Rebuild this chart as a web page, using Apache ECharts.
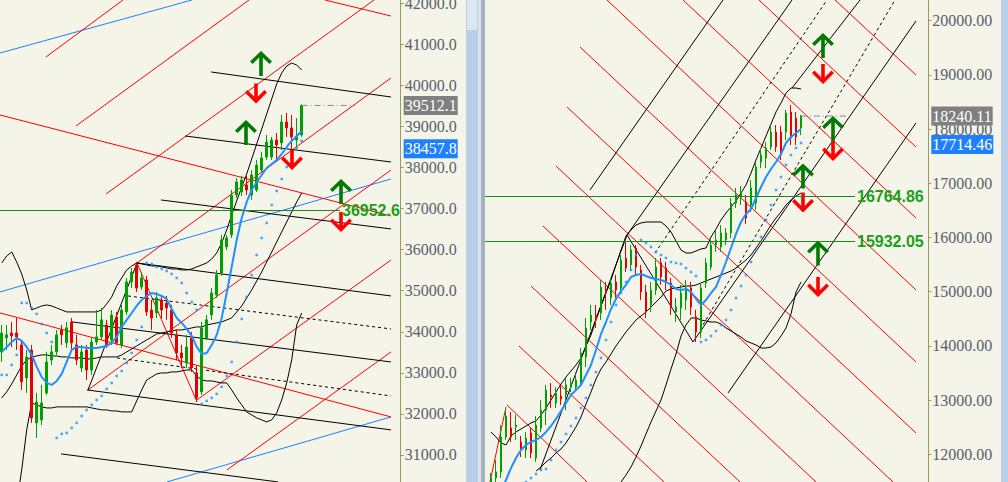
<!DOCTYPE html>
<html><head><meta charset="utf-8">
<script src="https://cdn.jsdelivr.net/npm/echarts@6/dist/echarts.min.js"></script>
<style>html,body{margin:0;padding:0;background:#f5f4e8;}#c{width:1008px;height:482px;}</style>
</head><body><div id="c"></div>
<script>
// ---------------- LEFT PANEL DATA (index, [open, close, low, high]) ----------------
const leftCandles = [
[33510,33970,33265,34165],[33850,33925,33555,34165],[33970,33900,33630,34240],[33970,33875,33555,34335],
[33680,32780,32585,33800],[32875,33385,32510,33555],[33555,31900,31780,33680],[31780,32290,31415,32510],
[31855,32265,31730,32705],[32510,33265,32460,33510],[33315,33510,33190,33680],[33510,33925,33435,34045],
[34045,33925,33680,34165],[33730,34095,33605,34240],[34240,33730,33555,34335],[33680,33315,33190,33925],
[33120,33510,33020,33680],[33555,33070,32825,33680],[33070,33750,32950,33850],[33750,33875,33680,34530],
[33875,34290,33800,34580],[34165,33680,33605,34290],[33800,34410,33680,34530],[34360,33730,33680,34485],
[33680,34530,33605,34655],[34485,35215,34410,35310],[35215,35455,35065,35555],[35625,35065,34970,35700],
[35090,35310,35020,35455],[35260,34485,34385,35360],[34530,34335,34045,34775],[34460,34825,34335,34970],
[34775,34530,34335,34870],[34700,34580,34290,34870],[34530,33970,33850,34655],[33925,33485,33315,34045],
[33485,33365,33120,33680],[33240,33630,33120,33925],[33850,33120,33020,33995],[33000,32390,32290,33170],
[32535,34095,32460,34240],[33850,34290,33800,34410],[34410,34945,34290,35065],[34895,35385,34825,35505],
[35430,36235,35360,36360],[36065,36285,35990,36360],[36360,37330,36285,37455],[37330,37650,37260,37745],
[37405,37695,37305,37795],[37575,37455,37330,37795],[37330,37820,37210,37940],[37455,38060,37405,38185],
[37940,38235,37890,38380],[38255,38620,38185,38795],[38255,38670,38185,38745],[38670,38550,38185,38840],
[38600,39110,38425,39280],[39110,38965,38745,39330],[38965,38745,38380,39280],[38670,38745,38500,39205],
[38795,39512.1,38745,39540]
];
const leftMA = [33509,33631,33752,33850,33777,33631,33436,33144,32900,32754,32705,32803,32973,33265,33557,33631,33631,33606,33606,33606,33631,33655,33728,33874,34118,34288,34458,34629,34775,34872,34945,34921,34872,34799,34556,34337,34215,34069,33898,33631,33460,33484,33679,33923,34337,34945,35579,36236,36772,37161,37453,37648,37819,37989,38087,38184,38330,38501,38647,38768,38890];
const leftSAR = [32949,32949,33192,33436,34702,34702,34580,34434,34190,33971,33752,31415,31512,31537,31658,31780,31950,32097,32219,32340,32437,32608,32754,32924,33046,33241,33484,33801,34118,35676,35652,35579,35530,35481,35408,35311,35189,34945,34726,34531,32243,32316,32389,32486,32657,32924,33265,33752,34312,34848,35384,35871,36285,36650,37088,37429,37721,38014,38257,38476,38647];
const leftBandUp = [35676,35846,35944,35700,35408,35018,34531,34580,34629,34653,34629,34580,34531,34483,34483,34483,34483,34483,34483,34483,34531,34678,34848,35116,35311,35505,35603,35676,35652,35627,35603,35603,35579,35554,35530,35530,35505,35505,35530,35579,35627,35676,35773,35919,36163,36480,36845,37186,37527,37843,38208,38574,38939,39304,39669,40035,40302,40473,40546,40497,40375];
const leftBandMid = [32389,32535,32730,32949,33168,33314,33387,33411,33436,33436,33411,33411,33387,33387,33363,33363,33363,33338,33338,33363,33387,33387,33387,33387,33436,33509,33582,33655,33728,33801,33874,33947,33971,33996,34020,34044,34044,34069,34093,34118,34118,34166,34191,34215,34239,34288,34337,34483,34629,34824,35018,35238,35457,35700,35944,36187,36431,36674,36918,37161,37381];
const leftBandLow = [null,28176,29004,29808,30636,31610,32267,32218,32170,32145,32145,32170,32170,32170,32170,32170,32170,32170,32145,32121,32097,32097,32072,32072,32048,32048,32048,32316,32583,32827,32900,32973,32997,32997,33022,33022,33046,33070,33070,32924,32827,32803,32803,32778,32754,32754,32583,32389,32219,32048,31975,31902,31853,31804,31853,32024,32340,32754,33314,34166,34458];
// trend lines: [[index, price], [index, price]]
const leftRedLines = [
 [[8.86,40692],[24.26,42080]],[[14.86,39012],[49.46,42080]],[[20.86,37356],[74.46,42080]],
 [[27.06,35676],[77.86,40181]],[[17.26,32583],[77.86,37940]],[[39.06,32340],[77.86,35749]],
 [[45.06,30636],[77.86,33509]],[[-0.34,39280],[77.86,36820]],[[-0.34,34458],[77.86,31926]],
 [[64.66,42080],[77.86,41690]],[[27.06,35676],[39.06,32291]]
];
const leftBlackLines = [
 [[41.9,40327],[77.86,39718]],[[36.66,38768],[77.86,38135]],[[31.86,37210],[77.86,36504]],
 [[27.06,35676],[77.86,34872]],[[14.06,34239],[77.86,33265]],[[17.06,32583],[77.86,31610]],
 [[11.86,31025],[55.26,30343]],[[17.26,32583],[27.06,35676]]
];
const leftBlackDashed = [[[25.26,34872],[77.86,34069]],[[23.06,33363],[77.86,32437]]];
const leftBlueLines = [[[-0.34,40789],[38.06,42080]],[[-0.34,34970],[77.86,37721]],[[33.06,30343],[77.86,31926]]];
const leftLevel = 36952.6, leftLevelEnd = 67.66;
const leftLast = 39512.1, leftBlueVal = 38457.8;
const leftArrowsUp = [[51.86,40534],[48.86,38854],[67.86,37417]];
const leftArrowsDown = [[50.86,39803],[58.06,38184],[67.86,36674]];

// ---------------- RIGHT PANEL DATA ----------------
const rightCandles = [
[11490,11565,11340,11655],[11565,11675,11490,11895],[11675,12320,11565,12540],[12320,12705,12265,12855],
[12485,12320,12225,12780],[12505,12540,12265,12725],[12225,12080,11950,12340],[12080,12300,11930,12410],
[12395,12025,11930,12485],[11930,12540,11860,12705],[12485,12815,12410,13000],[12815,13185,12540,13280],
[13095,13055,12855,13315],[12945,13130,12855,13240],[13075,13020,12910,13280],[13095,13280,12815,13410],
[13240,13315,13150,13410],[13240,13370,13185,13480],[13335,13870,13280,13960],[13795,14330,13610,14515],
[14440,14570,14295,14755],[14570,14480,14330,14755],[14605,15085,14480,15215],[15030,14975,14665,15180],
[14885,15160,14755,15255],[15180,15030,14885,15310],[15070,15585,14995,15675],[15620,15435,15365,15915],
[15495,15770,15400,15860],[15805,15455,15310,15860],[15400,14995,14845,15495],[14995,14625,14515,15125],
[14755,15030,14625,15180],[15030,15455,14940,15620],[15530,15270,15125,15620],[15435,15180,15030,15550],
[15160,14720,14570,15255],[14625,14720,14440,14885],[14700,14975,14480,15125],[14845,15070,14665,15215],
[15070,14720,14570,15180],[14535,14255,14070,14665],[14255,15070,14145,15160],[15160,15530,15070,15620],
[15455,15860,15400,15955],[15860,15955,15735,16140],[15825,16085,15735,16230],[15955,16085,15860,16175],
[16085,16635,15990,16730],[16635,16785,16545,16915],[16745,16840,16600,16950],[16655,16360,16250,16785],
[16600,16915,16470,17060],[16635,17300,16510,17395],[17395,17520,17280,17650],[17465,17650,17280,17760],
[17670,17945,17615,18040],[17945,17670,17580,18075],[17945,17520,17430,18055],[17945,18295,17800,18355],
[18315,17835,17705,18445],[18205,17855,17705,18315],[18020,18240.11,17890,18260]
];
const rightMA = [11065,11194,11341,11526,11747,11932,12080,12172,12227,12264,12319,12412,12522,12651,12799,12947,13094,13187,13279,13463,13648,13924,14220,14441,14681,14865,15013,15124,15271,15308,15327,15290,15253,15235,15216,15179,15124,15050,15032,15050,14995,14866,14755,14847,14976,15087,15308,15548,15806,16065,16286,16434,16526,16729,16932,17116,17264,17393,17541,17744,17854,17928,18002];
const rightSAR = [null,null,null,null,null,11341,11415,11489,11563,11637,11711,11729,11895,12080,12227,12375,12522,12670,12855,13039,13279,13519,13777,14109,14441,14755,14976,15179,15400,15677,15954,15899,15825,15733,15677,15622,15548,15530,15511,15437,15364,15290,14072,14109,14183,14275,14386,14478,14663,14884,15105,15308,15548,15770,16010,16323,16600,16877,17116,17338,17522,17651,17744];
const rightBandUp = [12412,12319,12209,12172,12338,12412,12467,12522,12578,12615,12725,12854,13002,13150,13297,13426,13537,13648,13777,13998,14201,14478,14736,14976,15216,15493,15769,16028,16138,16231,16268,16286,16286,16286,16286,16212,16102,15936,15769,15714,15714,15751,15788,15806,16009,16157,16323,16452,16563,16674,16821,16969,17190,17430,17651,17873,18094,18316,18482,18666,18758,18758,18740];
const rightBandMid = [null,null,null,null,null,null,null,null,null,11692,11766,11858,11932,12024,12098,12209,12356,12504,12688,12928,13150,13390,13574,13703,13851,13998,14127,14257,14367,14478,14552,14626,14718,14810,14902,15013,15050,15069,15087,15105,15105,15124,15161,15198,15235,15271,15308,15345,15382,15437,15511,15585,15677,15806,15936,16083,16231,16360,16471,16600,16692,16766,16821];
const rightBandLow = [null,null,null,null,null,null,null,null,null,null,null,null,null,null,null,null,null,null,null,null,null,null,null,null,11100,11300,11489,11618,11766,11950,12153,12375,12596,12799,13002,13279,13574,13851,14183,14386,14515,14515,14478,14460,14441,14441,14404,14330,14275,14220,14164,14091,14054,14017,13961,13961,13980,14054,14183,14330,14589,14995,15179];
const rightRedLines = [
 [[68.8,20382],[85,18998]],[[53.6,20382],[85,17670]],[[38.4,20382],[85,16360]],[[23.2,20382],[85,15032]],
 [[17.8,19515],[85,13703]],[[15.2,18408],[85,12393]],[[13,17319],[80.4,11489]],[[10.4,16212],[65,11489]],
 [[8,15105],[49.8,11489]],[[5.6,13998],[34.6,11489]],[[3.2,12910],[19.2,11489]],[[-0.2,11489],[3,12873]]
];
const rightBlackLines = [
 [[19.8,16877],[46.4,20382]],[[27.2,16046],[60.2,20382]],[[40.4,14072],[85,19995]],
 [[47.4,13131],[85,18113]],[[9.8,11711],[27.2,16046]],[[27.2,16046],[40.4,14072]],
 [[60.2,18758],[73.8,20382]]
];
const rightBlackDashed = [[[32.8,15714],[67.2,20382]],[[41.8,14294],[80.8,20382]]];
const rightLevels = [16764.86, 15932.05], rightLevelEnd = 72.8;
const rightLast = 18240.11, rightBlueVal = 17714.46;
const rightArrowsUp = [[66.4,19543],[68.4,18011],[62.4,17135],[65.4,15714]];
const rightArrowsDown = [[66.4,19017],[68.4,17596],[62.4,16646],[65.4,15087]];

// ---------------- STYLE ----------------
const BG = '#f5f4e8', UP = '#00a000', DN = '#e60000', MA = '#1e90ff', AXIS = '#9a9a5c', LBL = '#56616b';
const SERIF = 'Liberation Serif, DejaVu Serif, serif';
const ARROW_UP = 'path://M11 0 L22 11 L19.5 13.5 L12.8 6.8 L12.8 26 L9.2 26 L9.2 6.8 L2.5 13.5 L0 11 Z';
const ARROW_DN = 'path://M11 20 L22 9 L19.5 6.5 L12.8 13.2 L12.8 0 L9.2 0 L9.2 13.2 L2.5 6.5 L0 9 Z';

function segs(list, color, g, type, z) {
  return {type:'lines', coordinateSystem:'cartesian2d', xAxisIndex:g, yAxisIndex:g, polyline:false, silent:true, z:z||1,
    lineStyle:{color:color, width:1, opacity:1, type:type||'solid', curveness:0},
    data:list.map(s=>({coords:s}))};
}
function curve(arr, g, color, width, z) {
  const d = []; arr.forEach((v,i)=>{ if (v!=null) d.push([i,v]); });
  return {type:'line', xAxisIndex:g, yAxisIndex:g, data:d, symbol:'none', silent:true, z:z||1,
    lineStyle:{color:color, width:width||1}};
}
function dots(arr, g) {
  const d = []; arr.forEach((v,i)=>{ if (v!=null) d.push([i,v]); });
  return {type:'scatter', xAxisIndex:g, yAxisIndex:g, data:d, symbol:'rect', symbolSize:2.5, silent:true, z:3,
    itemStyle:{color:MA}};
}
function arrows(list, g, up) {
  return {type:'scatter', xAxisIndex:g, yAxisIndex:g, data:list, silent:true, z:4,
    symbol: up?ARROW_UP:ARROW_DN, symbolSize: up?[22,25]:[22,20],
    itemStyle:{color: up?'#007a00':'#ff0000', opacity:1}};
}
function candles(arr, g) {
  return {type:'candlestick', xAxisIndex:g, yAxisIndex:g, z:2, silent:true, barWidth:2,
    encode:{x:0, y:[1,2,3,4]},
    data:arr.map((c,i)=>[i].concat(c)),
    itemStyle:{color:UP, color0:DN, borderColor:UP, borderColor0:DN, borderWidth:1}};
}
function boxes(g, list) {
  return {type:'line', xAxisIndex:g, yAxisIndex:g, data:[], clip:false, z:6,
    markLine:{symbol:'none', silent:true, animation:false, lineStyle:{color:'transparent', width:0, opacity:1},
      data: list.map(b=>({yAxis:b.v, label:{show:true, position:'end', distance:3, formatter:b.t,
        color:'#ffffff', backgroundColor:b.c, fontFamily:SERIF, fontSize:16, opacity:1,
        padding:[2,1,1,1], lineHeight:16}}))}};
}
function level(v, xs, xe, g, lab) {
  return {type:'line', xAxisIndex:g, yAxisIndex:g, data:[], z:3, clip:false,
    markLine:{symbol:'none', silent:true, animation:false, lineStyle:{color:'#1a8a1a', width:1, type:'solid'},
      label:{show:true, position:'end', distance:2, formatter:lab, color:'#19a019', fontWeight:'bold',
        fontFamily:'Liberation Sans, Arial, sans-serif', fontSize:16},
      data:[[{coord:[xs,v]},{coord:[xe,v]}]]}};
}
function lastLine(v, xs, xe, g) {
  return {type:'line', xAxisIndex:g, yAxisIndex:g, data:[[xs,v],[xe,v]], symbol:'none', silent:true, z:3,
    lineStyle:{color:'#8a8a8a', width:1, type:[6,3,1,3]}};
}
function yAx(g, min, max, dec) {
  return {gridIndex:g, type:'value', position:'right', min:min, max:max, interval:1000, scale:false,
    axisLine:{show:true, onZero:false, lineStyle:{color:AXIS, width:1}},
    axisTick:{show:true, length:3, lineStyle:{color:AXIS}},
    splitLine:{show:false},
    axisLabel:{formatter:v=>v.toFixed(dec), color:LBL, fontFamily:SERIF, fontSize:16, margin:4,
      showMinLabel:false, showMaxLabel:false}};
}

const chart = echarts.init(document.getElementById('c'), null, {renderer:'svg'});
chart.setOption({
  animation:false, backgroundColor:BG,
  grid:[
    {left:-3.3, top:-37.76, width:404, height:533.76, containLabel:false, outerBoundsMode:'none'},
    {left:485, top:-33.5, width:443.3, height:542, containLabel:false, outerBoundsMode:'none'}
  ],
  xAxis:[
    {gridIndex:0, type:'value', min:-1, max:79.8, show:false},
    {gridIndex:1, type:'value', min:-1.2, max:87.46, show:false}
  ],
  yAxis:[ yAx(0, 30000, 43000, 1), yAx(1, 11000, 21000, 2) ],
  graphic:[
    {type:'rect', shape:{x:466, y:0, width:12, height:482}, style:{fill:'#b9cfe8'}, silent:true},
    {type:'rect', shape:{x:467, y:0, width:10, height:30}, style:{fill:'#dce7f4'}, silent:true},
    {type:'rect', shape:{x:478, y:0, width:3, height:482}, style:{fill:'#dfe3e8'}, silent:true},
    {type:'rect', shape:{x:481, y:0, width:4, height:482}, style:{fill:'#a3b2c2'}, silent:true},
    {type:'rect', shape:{x:1001, y:0, width:7, height:482}, style:{fill:'#b9cfe8'}, silent:true}
  ],
  series:[
    segs(leftBlueLines, '#1e7fff', 0),
    segs(leftRedLines, '#ff0000', 0),
    segs(leftBlackLines, '#000000', 0),
    segs(leftBlackDashed, '#000000', 0, [3,3]),
    curve(leftBandUp, 0, '#000', 1), curve(leftBandMid, 0, '#000', 1), curve(leftBandLow, 0, '#000', 1),
    level(leftLevel, -1, leftLevelEnd, 0, '36952.6'),
    lastLine(leftLast, 60, 70.66, 0),
    candles(leftCandles, 0),
    curve(leftMA, 0, MA, 2, 3),
    dots(leftSAR, 0),
    arrows(leftArrowsUp, 0, true), arrows(leftArrowsDown, 0, false),
    boxes(0, [{v:leftLast, t:'39512.1', c:'#808080'},{v:leftBlueVal, t:'38457.8', c:'#1e7fff'}]),

    segs(rightRedLines, '#ff0000', 1),
    segs(rightBlackLines, '#000000', 1),
    segs(rightBlackDashed, '#000000', 1, [3,3]),
    curve(rightBandUp, 1, '#000', 1), curve(rightBandMid, 1, '#000', 1), curve(rightBandLow, 1, '#000', 1),
    level(rightLevels[0], -1.2, rightLevelEnd, 1, '16764.86'),
    level(rightLevels[1], -1.2, rightLevelEnd, 1, '15932.05'),
    lastLine(rightLast, 62, 71.4, 1),
    candles(rightCandles, 1),
    curve(rightMA, 1, MA, 2, 3),
    dots(rightSAR, 1),
    arrows(rightArrowsUp, 1, true), arrows(rightArrowsDown, 1, false),
    boxes(1, [{v:rightLast, t:'18240.11', c:'#808080'},{v:rightBlueVal, t:'17714.46', c:'#1e7fff'}])
  ]
});
</script></body></html>
